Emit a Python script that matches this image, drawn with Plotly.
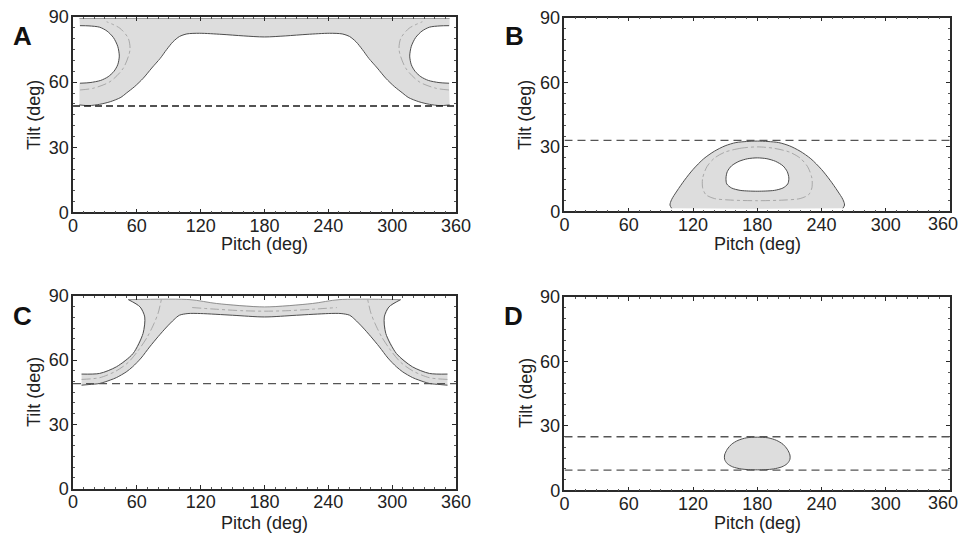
import plotly.graph_objects as go

# ---------------- data ----------------
# Panel A
a_outer_pitch = [6, 354, 354, 345, 335, 328, 322, 318, 316.5, 318, 321.5, 327, 334, 344, 353.5,
                 354, 354, 345, 335, 325, 315, 310, 302, 294, 286, 278, 272, 266, 260, 253, 241, 220, 200, 180,
                 160, 140, 119, 107, 100, 94, 88, 82, 74, 66, 58, 50, 45, 35, 25, 15, 6,
                 6, 6.5, 16, 26, 33, 38.5, 42, 43.5, 42, 38, 32, 25, 15, 6.5, 6]
a_outer_tilt = [89.3, 89.3, 86.0, 85.9, 85.3, 83.5, 80.5, 76.5, 72.0, 68.0, 65.0, 62.5, 60.8, 59.8, 59.5,
                49.5, 49.5, 49.2, 49.8, 51.0, 53.0, 54.9, 58.0, 61.8, 66.5, 71.0, 75.0, 78.6, 81.0, 82.2, 82.5, 82.0, 81.3, 80.8,
                81.3, 82.0, 82.5, 82.2, 81.0, 78.6, 75.0, 71.0, 66.5, 61.8, 58.0, 54.9, 53.0, 51.0, 49.8, 49.2, 49.5,
                59.5, 59.5, 59.8, 60.8, 62.5, 65.0, 68.0, 72.0, 76.5, 80.5, 83.5, 85.3, 85.9, 86.0, 89.3]
a_lower_pitch = [6, 15, 25, 35, 45, 50, 58, 66, 74, 82, 88, 94, 100, 107, 119, 140, 160, 180,
                 200, 220, 241, 253, 260, 266, 272, 278, 286, 294, 302, 310, 315, 325, 335, 345, 354]
a_lower_tilt = [49.5, 49.2, 49.8, 51.0, 53.0, 54.9, 58.0, 61.8, 66.5, 71.0, 75.0, 78.6, 81.0, 82.2, 82.5, 82.0, 81.3, 80.8,
                81.3, 82.0, 82.5, 82.2, 81.0, 78.6, 75.0, 71.0, 66.5, 61.8, 58.0, 54.9, 53.0, 51.0, 49.8, 49.2, 49.5]
a_holeL_pitch = [6.5, 15, 25, 32, 38, 42, 43.5, 42, 38.5, 33, 26, 16, 6.5]
a_holeL_tilt = [86.0, 85.9, 85.3, 83.5, 80.5, 76.5, 72.0, 68.0, 65.0, 62.5, 60.8, 59.8, 59.5]
a_holeR_pitch = [353.5, 345, 335, 328, 322, 318, 316.5, 318, 321.5, 327, 334, 344, 353.5]
a_holeR_tilt = [86.0, 85.9, 85.3, 83.5, 80.5, 76.5, 72.0, 68.0, 65.0, 62.5, 60.8, 59.8, 59.5]
a_ddL_pitch = [6.6, 19, 34.7, 47.2, 53.5, 51.9, 44.1, 31.6]
a_ddL_tilt = [56.4, 57.2, 60.2, 66.4, 74.8, 80.2, 84.8, 87.8]
a_ddR_pitch = [353.4, 341, 325.3, 312.8, 306.5, 308.1, 315.9, 328.4]
a_ddR_tilt = [56.4, 57.2, 60.2, 66.4, 74.8, 80.2, 84.8, 87.8]
a_top_pitch = [6, 354]
a_top_tilt = [89.3, 89.3]
a_dashed = 49

# Panel B
b_dome_pitch = [100, 98.5, 100, 105, 112, 120, 130, 140, 150, 160, 170, 180, 190, 200, 210,
                220, 230, 240, 248, 255, 260, 261.5, 260, 180, 100]
b_dome_tilt = [1.5, 3.0, 5.5, 9.5, 14.5, 19.5, 24.5, 28.0, 30.5, 32.0, 32.5, 32.7, 32.5, 32.0, 30.5,
               28.0, 24.5, 19.5, 14.5, 9.5, 5.5, 3.0, 1.5, 1.3, 1.5]
b_hole_pitch = [150.8, 152, 156, 163, 171, 180, 189, 197, 204, 208, 209.5, 208.5, 204, 196, 188, 180,
                172, 164, 156, 151.5, 150.8]
b_hole_tilt = [15.5, 18.5, 21.2, 23.3, 24.5, 24.9, 24.5, 23.3, 21.2, 18.5, 15.5, 12.8, 10.9, 9.8, 9.5, 9.4,
               9.5, 9.8, 10.9, 12.8, 15.5]
b_dd_pitch = [180, 165, 150, 140, 133, 129, 129, 132, 140, 155, 180, 205, 220, 228, 231, 231, 227, 220, 210, 195, 180]
b_dd_tilt = [30.0, 29.4, 27.6, 24.8, 20.8, 15.5, 11.0, 7.8, 6.0, 5.3, 5.0, 5.3, 6.0, 7.8, 11.0, 15.5, 20.8, 24.8, 27.6, 29.4, 30.0]
b_dashed = 33

# Panel C
c_shape_pitch = [8, 15, 25, 35, 41, 50, 56, 64, 72, 80, 88, 95, 100, 108, 120, 150, 180,
                 210, 240, 252, 260, 265, 272, 280, 288, 296, 304, 310, 319, 325, 335, 345, 352,
                 352, 335, 319, 304, 294, 292.6, 297, 308, 250, 225, 180, 135, 110, 52,
                 63, 67.4, 65.8, 56.4, 40.8, 25, 8, 8]
c_shape_tilt = [48.3, 48.6, 49.1, 50.7, 51.9, 54.5, 56.9, 61.0, 66.2, 71.0, 75.5, 79.0, 81.0, 81.8, 81.8, 81.0, 80.2,
                81.0, 81.8, 81.8, 81.0, 79.0, 75.5, 71.0, 66.2, 61.0, 56.9, 54.5, 51.9, 50.7, 49.1, 48.6, 48.3,
                53.5, 53.8, 56.9, 63.1, 72.5, 80.2, 84.9, 88.3, 88.3, 86.5, 84.9, 86.5, 88.3, 88.3,
                84.9, 80.2, 72.5, 63.1, 56.9, 53.8, 53.5, 48.3]
c_ddL_pitch = [8, 25, 40, 52, 62, 70, 76, 80, 83]
c_ddL_tilt = [51.0, 51.8, 54.8, 59.0, 65.0, 71.0, 77.0, 82.0, 88.3]
c_ddR_pitch = [352, 335, 320, 308, 298, 290, 284, 280, 277]
c_ddR_tilt = [51.0, 51.8, 54.8, 59.0, 65.0, 71.0, 77.0, 82.0, 88.3]
c_ddM_pitch = [112, 135, 160, 180, 200, 225, 248]
c_ddM_tilt = [84.6, 83.8, 83.1, 82.9, 83.1, 83.8, 84.6]
c_dashed = 49

# Panel D
d_blob_pitch = [180, 170, 162, 156, 152, 149.5, 149.5, 152, 157, 165, 172, 180, 188, 195, 203, 208,
                210.5, 210.5, 208, 204, 198, 190, 180]
d_blob_tilt = [24.8, 24.5, 23.3, 21.5, 19.2, 16.5, 14.5, 12.5, 11.0, 10.0, 9.7, 9.6, 9.7, 10.0, 11.0, 12.5,
               14.5, 16.5, 19.2, 21.5, 23.3, 24.5, 24.8]
d_dashed = [25, 9.5]

x_ticks = [0, 60, 120, 180, 240, 300, 360]
y_ticks = [0, 30, 60, 90]
panel_letters = ["A", "B", "C", "D"]
x_title = "Pitch (deg)"
y_title = "Tilt (deg)"

# ---------------- styling ----------------
FILL = "#dddddd"
EDGE = "#4d4d4d"
DD = "#9a9a9a"
FONT = "Liberation Sans, Arial, sans-serif"

fig = go.Figure()


def add(x, y, ax, **kw):
    kw.setdefault("mode", "lines")
    kw.setdefault("hoverinfo", "skip")
    fig.add_trace(go.Scatter(x=x, y=y, xaxis="x" + ax, yaxis="y" + ax, showlegend=False, **kw))


def fill(x, y, ax, color=FILL):
    add(x, y, ax, fill="toself", fillcolor=color, line=dict(width=0, color=color))


def edge(x, y, ax, w=1.0, color=EDGE):
    add(x, y, ax, line=dict(color=color, width=w, shape="spline", smoothing=0.8))


def ddline(x, y, ax):
    add(x, y, ax, line=dict(color=DD, width=0.8, dash="dashdot", shape="spline", smoothing=0.8))


def hline(v, ax, dash, color, w):
    add([0, 360], [v, v], ax, line=dict(color=color, width=w, dash=dash))


# Panel A
fill(a_outer_pitch, a_outer_tilt, "")
edge(a_lower_pitch, a_lower_tilt, "")
edge(a_holeL_pitch, a_holeL_tilt, "")
edge(a_holeR_pitch, a_holeR_tilt, "")
edge(a_top_pitch, a_top_tilt, "", w=0.8, color="#8a8a8a")
ddline(a_ddL_pitch, a_ddL_tilt, "")
ddline(a_ddR_pitch, a_ddR_tilt, "")
hline(a_dashed, "", "7px,4px", "#1a1a1a", 1.6)

# Panel B
fill(b_dome_pitch, b_dome_tilt, "2")
fill(b_hole_pitch, b_hole_tilt, "2", "white")
edge(b_dome_pitch[:23], b_dome_tilt[:23], "2")
edge(b_hole_pitch, b_hole_tilt, "2")
ddline(b_dd_pitch, b_dd_tilt, "2")
hline(b_dashed, "2", "8px,5px", "#555555", 1.3)

# Panel C
fill(c_shape_pitch, c_shape_tilt, "3")
edge(c_shape_pitch[:33], c_shape_tilt[:33], "3")
edge(c_shape_pitch[33:41], c_shape_tilt[33:41], "3")
edge(c_shape_pitch[40:47], c_shape_tilt[40:47], "3", w=0.8, color="#777777")
edge(c_shape_pitch[46:54], c_shape_tilt[46:54], "3")
ddline(c_ddL_pitch, c_ddL_tilt, "3")
ddline(c_ddR_pitch, c_ddR_tilt, "3")
ddline(c_ddM_pitch, c_ddM_tilt, "3")
hline(c_dashed, "3", "8px,5px", "#555555", 1.3)

# Panel D
fill(d_blob_pitch, d_blob_tilt, "4")
edge(d_blob_pitch, d_blob_tilt, "4")
for v in d_dashed:
    hline(v, "4", "8px,5px", "#555555", 1.3)

# ---------------- axes ----------------
xdom = {"": [0.0760, 0.4745], "2": [0.5874, 0.9886], "3": [0.0760, 0.4745], "4": [0.5874, 0.9886]}
ydom = {"": [0.6021, 0.9682], "2": [0.6040, 0.9668], "3": [0.0852, 0.4457], "4": [0.0815, 0.4438]}

tickfont = dict(family=FONT, size=18, color="#222222")
layout = dict(width=961, height=534, margin=dict(l=0, r=0, t=0, b=0, autoexpand=False),
              paper_bgcolor="white", plot_bgcolor="white", showlegend=False)
right_col = {"2", "4"}
for ax in ["", "2", "3", "4"]:
    common = dict(showline=True, linecolor="#2a2a2a", linewidth=1.5, mirror="ticks",
                  ticks="inside", ticklen=4, tickwidth=1, tickcolor="#2a2a2a", automargin=False,
                  ticklabeloverflow="allow",
                  showgrid=False, zeroline=False, tickfont=tickfont, fixedrange=True)
    # in the right column the last label ("360") is drawn as an annotation nudged left,
    # as in the reference where it sits just inside the page edge
    xt_text = [str(v) for v in x_ticks]
    if ax in right_col:
        xt_text[-1] = ""
    layout["xaxis" + ax] = dict(common, domain=xdom[ax], range=[0, 360], tickvals=x_ticks,
                                ticktext=xt_text,
                                anchor="y" + ax, ticklabelstandoff=-4,
                                minor=dict(dtick=10, tick0=0, ticklen=2, ticks="inside", tickcolor="#555", showgrid=False))
    layout["yaxis" + ax] = dict(common, domain=ydom[ax], range=[0, 90], tickvals=y_ticks,
                                anchor="x" + ax, ticklabelstandoff=-1,
                                minor=dict(dtick=5, tick0=0, ticklen=2, ticks="inside", tickcolor="#555", showgrid=False))
fig.update_layout(**layout)

# ---------------- annotations ----------------
W, H = 961, 534
ann = []
letter_pos = [(22, 36), (514, 36), (22, 316), (513, 316)]
for t, (px, py) in zip(panel_letters, letter_pos):
    ann.append(dict(text="<b>%s</b>" % t, x=px / W, y=1 - py / H, xref="paper", yref="paper",
                    showarrow=False, xanchor="center", yanchor="middle",
                    font=dict(family=FONT, size=26, color="#111111")))
xt_pos = [(264.5, 244), (757, 244), (264.5, 523), (757, 523)]
for px, py in xt_pos:
    ann.append(dict(text=x_title, x=px / W, y=1 - py / H, xref="paper", yref="paper",
                    showarrow=False, xanchor="center", yanchor="middle",
                    font=dict(family=FONT, size=18, color="#222222")))
yt_pos = [(34, 115), (525, 115), (34, 392), (526, 393)]
for px, py in yt_pos:
    ann.append(dict(text=y_title, x=px / W, y=1 - py / H, xref="paper", yref="paper",
                    showarrow=False, xanchor="center", yanchor="middle", textangle=-90,
                    font=dict(family=FONT, size=18, color="#222222")))
for py in (224, 503):
    ann.append(dict(text=str(x_ticks[-1]), x=960 / W, y=1 - py / H, xref="paper", yref="paper",
                    showarrow=False, xanchor="right", yanchor="middle",
                    font=tickfont))
fig.update_layout(annotations=ann)

fig.write_html("out.html", config={"displayModeBar": False},
               post_script="document.body.style.margin='0';document.body.style.overflow='hidden';")
